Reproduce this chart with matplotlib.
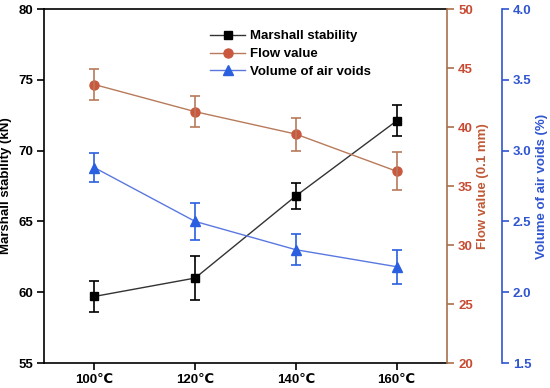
import numpy as np
import matplotlib.pyplot as plt

plt.rcParams['font.family'] = ['Liberation Sans', 'DejaVu Sans']
plt.rcParams['font.weight'] = 'bold'

temps = [100, 120, 140, 160]
tick_labels = ['100℃', '120℃', '140℃', '160℃']

stability = [59.7, 61.0, 66.8, 72.1]
stability_err = [1.1, 1.55, 0.9, 1.1]

flow = [43.6, 41.3, 39.4, 36.25]
flow_err = [1.3, 1.3, 1.4, 1.6]

voids = [2.88, 2.50, 2.30, 2.18]
voids_err = [0.1, 0.13, 0.11, 0.12]

c_flow_line = '#b87a5a'
c_flow_mark = '#c9583f'
c_flow_axis = '#a8704a'
c_flow_text = '#c84a32'
c_void = '#2a5fe0'
c_void_line = '#5a78e0'
c_void_axis = '#2f55d0'

fig = plt.figure(figsize=(5.5, 3.88), dpi=100)
ax = fig.add_axes([0.08, 0.0644, 0.7327, 0.9124])
ax2 = ax.twinx()
ax3 = ax.twinx()
ax3.spines['right'].set_position(('axes', 1.136))

# Marshall stability
l1, = ax.plot(temps, stability, color='#333333', lw=1, marker='s', ms=6,
              mfc='black', mec='black', label='Marshall stability')
ax.errorbar(temps, stability, yerr=stability_err, fmt='none', ecolor='black',
            elinewidth=1.2, capsize=3.5, capthick=1.2)

# Flow value
l2, = ax2.plot(temps, flow, color=c_flow_line, lw=1, marker='o', ms=6.5,
               mfc=c_flow_mark, mec=c_flow_mark, label='Flow value')
ax2.errorbar(temps, flow, yerr=flow_err, fmt='none', ecolor=c_flow_line,
             elinewidth=1.2, capsize=3.5, capthick=1.2)

# Air voids
l3, = ax3.plot(temps, voids, color=c_void_line, lw=1, marker='^', ms=7,
               mfc=c_void, mec=c_void, label='Volume of air voids')
ax3.errorbar(temps, voids, yerr=voids_err, fmt='none', ecolor=c_void,
             elinewidth=1.2, capsize=3.5, capthick=1.2)

ax.set_xlim(90, 170)
ax.set_ylim(55, 80)
ax2.set_ylim(20, 50)
ax3.set_ylim(1.5, 4.0)

ax.set_xticks(temps)
ax.set_xticklabels(tick_labels)
ax.set_yticks([55, 60, 65, 70, 75, 80])
ax2.set_yticks([20, 25, 30, 35, 40, 45, 50])
ax3.set_yticks([1.5, 2.0, 2.5, 3.0, 3.5, 4.0])
ax3.set_yticklabels(['1.5', '2.0', '2.5', '3.0', '3.5', '4.0'])

for a in (ax, ax2, ax3):
    a.tick_params(direction='out', length=5, width=1.2, labelsize=9.5, pad=3)
    for s in a.spines.values():
        s.set_linewidth(1.2)

ax.spines['right'].set_visible(False)
ax2.spines['left'].set_visible(False)
ax2.spines['right'].set_color(c_flow_axis)
ax2.tick_params(axis='y', colors=c_flow_axis, labelcolor=c_flow_text)
ax3.spines['right'].set_color(c_void_axis)
ax3.tick_params(axis='y', colors=c_void_axis, labelcolor=c_void_axis)
for a in (ax2, ax3):
    a.spines['top'].set_visible(False)
    a.spines['bottom'].set_visible(False)
    a.spines['left'].set_visible(False)

ax.set_ylabel('Marshall stability (kN)', fontsize=9.5, fontweight='bold', labelpad=4)
ax2.set_ylabel('Flow value (0.1 mm)', fontsize=9.5, fontweight='bold',
               color='#c05a38', labelpad=3)
ax3.set_ylabel('Volume of air voids (%)', fontsize=9.5, fontweight='bold',
               color=c_void_axis, labelpad=3)

ax.legend(handles=[l1, l2, l3], loc='upper left', bbox_to_anchor=(0.40, 0.955),
          frameon=False, fontsize=9.5, handlelength=2.6, handletextpad=0.4,
          labelspacing=0.42, borderaxespad=0)

fig.savefig('out.png', dpi=100)
